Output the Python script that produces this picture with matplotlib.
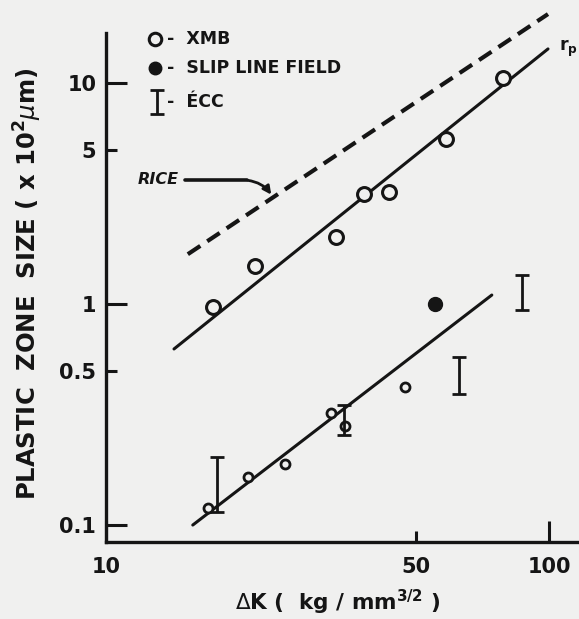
import matplotlib
matplotlib.use('Agg')
import matplotlib.pyplot as plt
import numpy as np

# ── data (log-log) ───────────────────────────────────────────────────────────
xmb_dk   = [17.4, 21.7, 33.0, 38.2, 43.5, 58.5, 78.7]
xmb_rp   = [0.97, 1.49, 2.01, 3.15, 3.2, 5.6, 10.5]

xmb2_dk  = [17.0, 20.9, 25.4, 32.2, 34.6, 47.3]
xmb2_rp  = [0.119, 0.165, 0.189, 0.321, 0.281, 0.421]

slip_dk  = [55.3]
slip_rp  = [1.0]

ecc_dk   = [17.8, 34.5, 62.6, 86.9]
ecc_lo   = [0.1145, 0.255, 0.392, 0.94]
ecc_hi   = [0.203, 0.349, 0.576, 1.35]

rp_line_dk   = [14.24, 99.5]
rp_line_val  = [0.626, 14.26]
rice_dk      = [15.3, 99.5]
rice_val     = [1.68, 20.5]
low_line_dk  = [15.7, 74.3]
low_line_val = [0.1, 1.098]

BG, INK = '#f0f0ef', '#151515'
FONT = 'DejaVu Sans'

fig = plt.figure(figsize=(5.79, 6.19), dpi=100)
fig.patch.set_facecolor(BG)
ax = fig.add_axes([106/579, 77/619, 473/579, 535/619])
ax.set_facecolor(BG)
ax.set_xscale('log')
ax.set_yscale('log')
ax.set_xlim(10, 116.9)
ax.set_ylim(0.0838, 22.07)

# lines
ax.plot(rp_line_dk, rp_line_val, color=INK, lw=2.2, solid_capstyle='round')
ax.plot(low_line_dk, low_line_val, color=INK, lw=2.2, solid_capstyle='round')
rl, = ax.plot(rice_dk, rice_val, color=INK, lw=3.0)
rl.set_dashes((3.6, 2.0))

# points
ax.plot(xmb_dk, xmb_rp, 'o', ms=10, mfc=BG, mec=INK, mew=2.2)
ax.plot(xmb2_dk, xmb2_rp, 'o', ms=6.5, mfc=BG, mec=INK, mew=2.0)
ax.plot(slip_dk, slip_rp, 'o', ms=10, color=INK)
ecc_mid = [np.sqrt(a * b) for a, b in zip(ecc_lo, ecc_hi)]
yerr = [[m - a for m, a in zip(ecc_mid, ecc_lo)],
        [b - m for m, b in zip(ecc_mid, ecc_hi)]]
ax.errorbar(ecc_dk, ecc_mid, yerr=yerr, fmt='none', ecolor=INK,
            elinewidth=2.0, capsize=5, capthick=2.0)

# spines / ticks
for s in ['top', 'right']:
    ax.spines[s].set_visible(False)
for s in ['left', 'bottom']:
    ax.spines[s].set_linewidth(2.4)
    ax.spines[s].set_color(INK)
ax.spines['left'].set_bounds(0.0838, 16.8)

ax.set_yticks([0.1, 1, 10], ['0.1', '1', '10'])
ax.set_yticks([0.5, 5], ['0.5', '5'], minor=True)
ax.set_xticks([10, 100], ['10', '100'])
ax.set_xticks([50], ['50'], minor=True)
ax.tick_params(which='both', direction='in', width=2.2, color=INK,
               labelsize=15, labelcolor=INK)
ax.tick_params(which='major', length=15)
ax.tick_params(which='minor', length=8)
ax.tick_params(axis='y', which='both', pad=7)
ax.tick_params(axis='x', which='both', pad=11)
for t in ax.get_xticklabels(which='both') + ax.get_yticklabels(which='both'):
    t.set_fontweight('bold')
    t.set_family(FONT)

ax.set_ylabel('PLASTIC  ZONE  SIZE ( x 10$^{\\mathbf{2}}$$\\mu$m)', fontsize=17.5,
              fontweight='bold', color=INK)
ax.yaxis.set_label_coords((44 - 106) / 473, (542 - 284) / 535)
ax.set_xlabel('$\\Delta$K (  kg / mm$^{\\mathbf{3/2}}$ )', fontsize=15.5,
              fontweight='bold', color=INK)
ax.xaxis.set_label_coords((338 - 106) / 473, (542 - 588) / 535)

# legend drawn by hand, in axes fraction
leg_x_m, leg_x_t = (155 - 106) / 473, (167 - 106) / 473
leg_rows = [(542 - 39) / 535, (542 - 68) / 535, (542 - 102) / 535]
ax.plot([leg_x_m], [leg_rows[0]], 'o', ms=9, mfc=BG, mec=INK, mew=2.2,
        transform=ax.transAxes, clip_on=False)
ax.plot([leg_x_m], [leg_rows[1]], 'o', ms=9, color=INK,
        transform=ax.transAxes, clip_on=False)
ax.errorbar([leg_x_m + 0.004], [leg_rows[2]], yerr=[[0.022], [0.022]],
            fmt='none', ecolor=INK, elinewidth=2.0, capsize=5, capthick=2.0,
            transform=ax.transAxes, clip_on=False)
for row, txt in zip(leg_rows, ['-  XMB', '-  SLIP LINE FIELD', '-  ÉCC']):
    ax.text(leg_x_t, row, txt, transform=ax.transAxes, fontsize=12.5,
            fontweight='bold', color=INK, va='center', ha='left')

# RICE label + arrow
ax.text(14.6, 3.64, 'RICE', fontsize=11.5, fontweight='bold', style='italic',
        color=INK, ha='right', va='center')
ax.plot([15.07, 20.8], [3.64, 3.64], color=INK, lw=2.6, solid_capstyle='round')
ax.annotate('', xy=(23.8, 3.05), xytext=(20.6, 3.64),
            arrowprops=dict(arrowstyle='-|>', color=INK, lw=2.0,
                            mutation_scale=12,
                            connectionstyle='arc3,rad=-0.25'))

# r_p label
ax.text(105.5, 14.3, 'r$_{\\mathbf{p}}$', fontsize=12.5, fontweight='bold',
        color=INK, ha='left', va='center')

fig.savefig('out.png', dpi=100, facecolor=BG)
